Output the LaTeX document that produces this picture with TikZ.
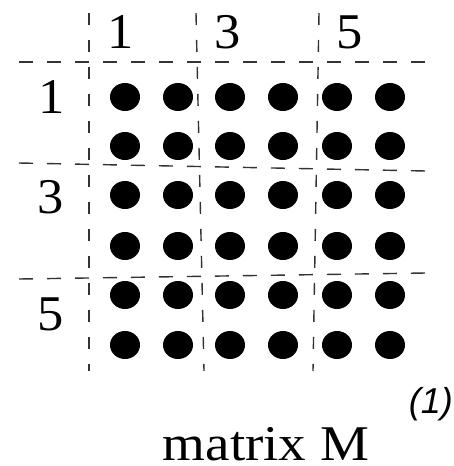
\documentclass[tikz,border=0pt]{standalone}
\usepackage{fontspec}
\setmainfont{Liberation Serif}
\newfontfamily\lsans{Liberation Sans}
\begin{document}
\begin{tikzpicture}[x=1pt,y=-1pt,
  grid/.style={draw=black!80,line width=1.4pt},
  hline/.style={grid,dash pattern=on 14pt off 14pt},
  vline/.style={grid,dash pattern=on 12pt off 15pt},
  lab/.style={inner sep=0pt,anchor=base,font=\fontsize{50}{50}\selectfont},
  dot/.style={fill=black}]
\useasboundingbox (0,0) rectangle (454,466);
% grid lines
\draw[hline] (19,62) -- (426,62);
\draw[hline] (19,163) -- (426,171);
\draw[hline] (19,279) -- (426,273);
\draw[vline] (89,13) -- (89,371);
\draw[vline] (196,13) -- (204,371);
\draw[vline] (319,13) -- (313,371);
% dots
\foreach \x in {125,178,230,283,337,390}
  \foreach \y in {97,146,195,246,295,345}
    \fill[dot] (\x,\y) ellipse [x radius=15pt, y radius=14pt];
% labels
\node[lab,xscale=1.05] (c1) at (121,48) {1};
\node[lab,xscale=1.05] (c3) at (228,48) {3};
\node[lab,xscale=1.05] (c5) at (350,48) {5};
\node[lab,xscale=1.05] (r1) at (52,113) {1};
\node[lab,xscale=1.05] (r3) at (51,213) {3};
\node[lab,xscale=1.05] (r5) at (51,330) {5};
\node[lab,xscale=1.1] (title) at (266,460) {matrix M};
\node[inner sep=0pt,anchor=east] (num) at (453,404) {\fontsize{36}{36}\selectfont\lsans\itshape (1)};
\end{tikzpicture}
\end{document}
